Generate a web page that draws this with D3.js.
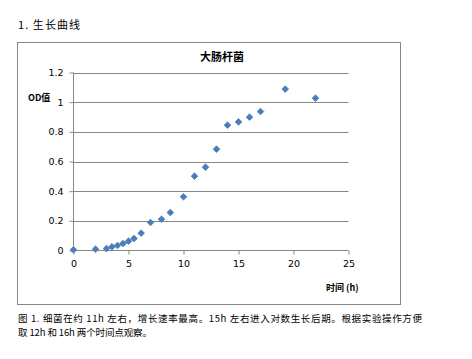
<!DOCTYPE html>
<html><head><meta charset="utf-8">
<script src="https://cdn.jsdelivr.net/npm/d3@7"></script>
<style>
body{margin:0;background:#fff;}
svg{display:block;}
</style></head>
<body>
<svg id="c" width="472" height="359"></svg>
<script>
const timeH = [0, 2, 3, 3.5, 4, 4.5, 5, 5.5, 6.15, 7, 8, 8.8, 10, 11, 12, 13, 14, 15, 16, 17, 19.25, 22];
const odValues = [0.005, 0.009, 0.013, 0.025, 0.034, 0.047, 0.063, 0.081, 0.117, 0.189, 0.211, 0.256, 0.362, 0.501, 0.562, 0.683, 0.845, 0.867, 0.899, 0.937, 1.088, 1.027];
const xTicks = [0, 5, 10, 15, 20, 25];
const yTicks = [0, 0.2, 0.4, 0.6, 0.8, 1, 1.2];
const chartTitle = "大肠杆菌";
const yTitle = "OD值";
const xTitle = "时间 (h)";
const heading = "1.  生长曲线";
const captionLines = ["图 1. 细菌在约 11h 左右，增长速率最高。15h 左右进入对数生长后期。根据实验操作方便",
                      "取 12h 和 16h 两个时间点观察。"];
const captionWidths = [404, 134];

const svg = d3.select("#c");
const cjk = "'Noto Sans CJK SC', 'Noto Sans', sans-serif";
const lat = "'DejaVu Sans', Verdana, sans-serif";

svg.append("text").attr("x", 18).attr("y", 29).text(heading)
  .attr("font-family", cjk).attr("font-size", 11).attr("fill", "#000")
  .attr("textLength", 62).attr("lengthAdjust", "spacing");

// chart frame
svg.append("rect").attr("x", 17.5).attr("y", 42.5).attr("width", 383).attr("height", 262)
  .attr("fill", "#fff").attr("stroke", "#868686").attr("stroke-width", 1);

const x = d3.scaleLinear().domain([0, 25]).range([73.5, 348.5]);
const y = d3.scaleLinear().domain([0, 1.2]).range([250.5, 72.5]);

// gridlines
svg.append("g").selectAll("line").data(yTicks.filter(d => d > 0)).join("line")
  .attr("x1", x(0)).attr("x2", x(25))
  .attr("y1", d => Math.round(y(d)) + 0.5).attr("y2", d => Math.round(y(d)) + 0.5)
  .attr("stroke", "#868686").attr("stroke-width", 1);

const yAxis = d3.axisLeft(y).tickValues(yTicks).tickSize(4).tickPadding(6)
  .tickFormat(d => d3.format("")(+d.toFixed(1)));
const gy = svg.append("g").attr("transform", `translate(${x(0)},0)`).call(yAxis);
const xAxis = d3.axisBottom(x).tickValues(xTicks).tickSize(4).tickPadding(6);
const gx = svg.append("g").attr("transform", `translate(0,${y(0)})`).call(xAxis);
[gx, gy].forEach(g => {
  g.select(".domain").attr("stroke", "#868686");
  g.selectAll(".tick line").attr("stroke", "#868686");
  g.selectAll("text").attr("font-family", lat).attr("font-size", 9.5).attr("fill", "#000");
});
gy.select(".domain").attr("d", `M-0,${y(1.2)}V${y(0)}`);
gx.select(".domain").attr("d", `M${x(0)},0H${x(25)}`);

// points
const diamond = d3.symbol().type(d3.symbolSquare).size(22);
svg.append("g").selectAll("path").data(timeH.map((t, i) => [t, odValues[i]])).join("path")
  .attr("d", diamond())
  .attr("transform", d => `translate(${x(d[0])},${y(d[1])}) rotate(45)`)
  .attr("fill", "#4a7ebb").attr("stroke", "#4a7ebb").attr("stroke-width", 0.8);

svg.append("text").attr("x", 222).attr("y", 61).attr("text-anchor", "middle").text(chartTitle)
  .attr("font-family", cjk).attr("font-size", 11).attr("font-weight", "bold");
svg.append("text").attr("x", 28).attr("y", 101).text(yTitle)
  .attr("font-family", cjk).attr("font-size", 9).attr("font-weight", "bold");
svg.append("text").attr("x", 326).attr("y", 291).text(xTitle)
  .attr("font-family", cjk).attr("font-size", 9).attr("font-weight", "bold");

svg.append("g").selectAll("text").data(captionLines).join("text")
  .attr("x", 18).attr("y", (d, i) => 322 + i * 14).text(d => d)
  .attr("textLength", (d, i) => captionWidths[i]).attr("lengthAdjust", "spacing")
  .attr("font-family", cjk).attr("font-size", 9.5).attr("fill", "#000");
</script>
</body></html>
